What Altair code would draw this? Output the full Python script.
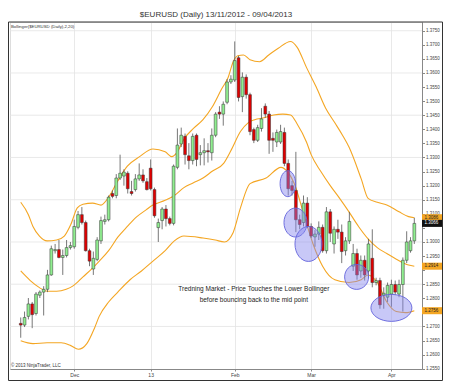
import altair as alt
import pandas as pd

# ---------------- data ----------------
open_ = [1.2711, 1.2705, 1.2736, 1.2780, 1.2746, 1.2811, 1.2822, 1.2832, 1.2883, 1.2969,
         1.2973, 1.2945, 1.2952, 1.2980, 1.2983, 1.3052, 1.3097, 1.3069, 1.2969, 1.2904,
         1.2938, 1.3004, 1.3073, 1.3079, 1.3172, 1.3165, 1.3227, 1.3234, 1.3244, 1.3179,
         1.3186, 1.3224, 1.3238, 1.3214, 1.3262, 1.3186, 1.3051, 1.3076, 1.3117, 1.3083,
         1.3066, 1.3265, 1.3348, 1.3375, 1.3306, 1.3289, 1.3379, 1.3310, 1.3317, 1.3324,
         1.3317, 1.3379, 1.3461, 1.3454, 1.3496, 1.3568, 1.3575, 1.3654, 1.3516, 1.3585,
         1.3523, 1.3399, 1.3361, 1.3403, 1.3482, 1.3454, 1.3368, 1.3355, 1.3355, 1.3389,
         1.3279, 1.3200, 1.3183, 1.3079, 1.3069, 1.3138, 1.3055, 1.3018, 1.3028, 1.3052,
         1.2969, 1.3107, 1.2993, 1.3045, 1.3035, 1.2969, 1.3004, 1.2914, 1.2959, 1.2897,
         1.2935, 1.2897, 1.2942, 1.2856, 1.2863, 1.2811, 1.2804, 1.2815, 1.2849, 1.2815,
         1.2849, 1.2935, 1.2969, 1.3004]
high = [1.2732, 1.2753, 1.2801, 1.2787, 1.2822, 1.2828, 1.2843, 1.2901, 1.2987, 1.2993,
        1.3007, 1.2973, 1.3007, 1.3000, 1.3079, 1.3110, 1.3124, 1.3076, 1.2976, 1.2966,
        1.3017, 1.3090, 1.3097, 1.3165, 1.3183, 1.3241, 1.3310, 1.3258, 1.3251, 1.3217,
        1.3241, 1.3279, 1.3258, 1.3227, 1.3293, 1.3193, 1.3083, 1.3124, 1.3131, 1.3090,
        1.3275, 1.3403, 1.3406, 1.3385, 1.3351, 1.3385, 1.3385, 1.3344, 1.3368, 1.3351,
        1.3403, 1.3461, 1.3482, 1.3499, 1.3578, 1.3592, 1.3712, 1.3661, 1.3602, 1.3595,
        1.3530, 1.3406, 1.3416, 1.3475, 1.3492, 1.3465, 1.3389, 1.3399, 1.3416, 1.3406,
        1.3293, 1.3217, 1.3320, 1.3097, 1.3165, 1.3159, 1.3066, 1.3042, 1.3073, 1.3062,
        1.3124, 1.3117, 1.3055, 1.3079, 1.3062, 1.3017, 1.3107, 1.2993, 1.2976, 1.2952,
        1.2952, 1.3011, 1.3045, 1.2873, 1.2873, 1.2839, 1.2856, 1.2866, 1.2863, 1.2866,
        1.2945, 1.3038, 1.3017, 1.3086]
low = [1.2660, 1.2698, 1.2725, 1.2694, 1.2739, 1.2801, 1.2739, 1.2822, 1.2880, 1.2959,
       1.2942, 1.2883, 1.2945, 1.2973, 1.2976, 1.3045, 1.3062, 1.2966, 1.2914, 1.2883,
       1.2932, 1.2993, 1.3062, 1.3073, 1.3155, 1.3155, 1.3220, 1.3200, 1.3172, 1.3165,
       1.3179, 1.3217, 1.3210, 1.3183, 1.3183, 1.3086, 1.3000, 1.3045, 1.3055, 1.3059,
       1.3059, 1.3258, 1.3337, 1.3275, 1.3258, 1.3275, 1.3269, 1.3272, 1.3272, 1.3282,
       1.3289, 1.3372, 1.3437, 1.3413, 1.3489, 1.3561, 1.3568, 1.3499, 1.3461, 1.3509,
       1.3379, 1.3351, 1.3355, 1.3392, 1.3441, 1.3313, 1.3320, 1.3337, 1.3348, 1.3269,
       1.3165, 1.3165, 1.3035, 1.3045, 1.3055, 1.3049, 1.3014, 1.2983, 1.3007, 1.2962,
       1.2959, 1.3000, 1.2959, 1.3011, 1.2925, 1.2952, 1.2993, 1.2897, 1.2866, 1.2873,
       1.2863, 1.2873, 1.2839, 1.2846, 1.2763, 1.2763, 1.2787, 1.2770, 1.2811, 1.2804,
       1.2753, 1.2925, 1.2962, 1.2993]
close = [1.2705, 1.2732, 1.2780, 1.2742, 1.2815, 1.2822, 1.2832, 1.2883, 1.2976, 1.2973,
         1.2945, 1.2952, 1.2980, 1.2987, 1.3055, 1.3097, 1.3069, 1.2969, 1.2932, 1.2942,
         1.3007, 1.3076, 1.3079, 1.3159, 1.3162, 1.3227, 1.3244, 1.3248, 1.3189, 1.3172,
         1.3224, 1.3238, 1.3217, 1.3186, 1.3189, 1.3093, 1.3069, 1.3117, 1.3083, 1.3066,
         1.3269, 1.3344, 1.3379, 1.3310, 1.3289, 1.3375, 1.3293, 1.3317, 1.3324, 1.3320,
         1.3379, 1.3454, 1.3454, 1.3489, 1.3568, 1.3578, 1.3644, 1.3513, 1.3585, 1.3523,
         1.3392, 1.3361, 1.3406, 1.3437, 1.3454, 1.3361, 1.3361, 1.3389, 1.3392, 1.3279,
         1.3189, 1.3183, 1.3079, 1.3062, 1.3138, 1.3055, 1.3021, 1.3028, 1.3052, 1.2969,
         1.3107, 1.3031, 1.3045, 1.3035, 1.2966, 1.3004, 1.3073, 1.2959, 1.2883, 1.2935,
         1.2883, 1.2993, 1.2856, 1.2863, 1.2777, 1.2818, 1.2846, 1.2849, 1.2822, 1.2849,
         1.2935, 1.3000, 1.3004, 1.3066]

# Bollinger(20,2) bands (bar position, price)
upper_idx = [0, 2, 3.2, 4.9, 6.9, 9.4, 11.4, 13.1, 14.8, 16.3, 18.8, 21, 23, 25.4, 27.9,
             31.1, 34.6, 37.8, 39.5, 41, 42.7, 45.2, 47.7, 50.1, 52.6, 54.3, 55.6, 56.8,
             58.3, 60, 62.5, 64.9, 67.4, 70.6, 72.3, 74.8, 77.3, 79.8, 82.2, 84.2, 85.9,
             89.1, 90.9, 93.3, 95.8, 99, 101.5, 103]
upper_val = [1.3141, 1.3097, 1.3055, 1.3021, 1.3004, 1.3007, 1.3021, 1.3062, 1.3121,
             1.3134, 1.3138, 1.3131, 1.3159, 1.3217, 1.3269, 1.3303, 1.3330, 1.3320,
             1.3303, 1.3320, 1.3365, 1.3403, 1.3434, 1.3479, 1.3544, 1.3585, 1.3640,
             1.3661, 1.3664, 1.3647, 1.3640, 1.3664, 1.3688, 1.3712, 1.3692, 1.3619,
             1.3551, 1.3475, 1.3423, 1.3379, 1.3337, 1.3224, 1.3155, 1.3141, 1.3131,
             1.3107, 1.3090, 1.3086]
middle_idx = [0, 2.5, 4.9, 6.9, 9.4, 11.9, 13.8, 16.3, 18.8, 20.5, 23, 25.4, 27.9, 30.4,
              32.8, 34.6, 37.8, 40.2, 42.7, 45.2, 47.7, 50.1, 53.1, 55.1, 57.5, 59.5,
              61.2, 63.7, 66.2, 68.6, 70.6, 72.3, 74.8, 76, 78.5, 81, 83.5, 85.9, 88.4,
              90.9, 93.3, 95.8, 98.3, 101.5, 103]
middle_val = [1.2897, 1.2863, 1.2838, 1.2825, 1.2825, 1.2832, 1.2845, 1.2876, 1.2907,
              1.2931, 1.2969, 1.3017, 1.3055, 1.3090, 1.3114, 1.3131, 1.3148, 1.3165,
              1.3193, 1.3210, 1.3227, 1.3251, 1.3279, 1.3327, 1.3392, 1.3423, 1.3434,
              1.3441, 1.3451, 1.3454, 1.3451, 1.3420, 1.3354, 1.3310, 1.3251, 1.3200,
              1.3154, 1.3107, 1.3055, 1.3011, 1.2980, 1.2959, 1.2939, 1.2918, 1.2914]
lower_idx = [0, 3.2, 6.9, 10.6, 13.1, 15.1, 17.3, 19.3, 20.5, 23, 25.4, 28.6, 31.6, 34.6,
             37.8, 40.2, 42.7, 47.7, 50.9, 53.3, 55.6, 57.5, 60, 64.2, 68.1, 69.9, 71.6,
             74.1, 76.5, 79, 82.2, 85.9, 89.1, 90.9, 93.3, 95.8, 98.3, 100.7, 103]
lower_val = [1.2649, 1.2639, 1.2642, 1.2642, 1.2632, 1.2619, 1.2639, 1.2694, 1.2735,
             1.2787, 1.2822, 1.2866, 1.2897, 1.2932, 1.2969, 1.3004, 1.3021, 1.3014,
             1.3007, 1.3000, 1.3034, 1.3121, 1.3207, 1.3227, 1.3265, 1.3248, 1.3207,
             1.3097, 1.2993, 1.2914, 1.2866, 1.2856, 1.2866, 1.2883, 1.2856, 1.2787,
             1.2753, 1.2749, 1.2756]

# highlighted touches of the lower band (bar position, price)
touch_idx = [69.9, 71.9, 75.3, 87.9, 97.0]
touch_price = [1.3207, 1.3069, 1.2993, 1.2876, 1.2766]

# axis ticks and labels
month_idx = [14, 34, 56, 76, 97]
month_lbl = ["Dec", "13", "Feb", "Mar", "Apr"]
y_ticks = [1.2550, 1.2600, 1.2650, 1.2700, 1.2750, 1.2800, 1.2850, 1.2900, 1.2950,
           1.3000, 1.3050, 1.3100, 1.3150, 1.3200, 1.3250, 1.3300, 1.3350, 1.3400,
           1.3450, 1.3500, 1.3550, 1.3600, 1.3650, 1.3700, 1.3750]
# tick labels hidden behind the value boxes in the reference
covered_ticks = [1.3050, 1.2900, 1.2750]
grid_levels = [1.2700, 1.2850, 1.3000, 1.3150, 1.3300, 1.3450, 1.3600, 1.3750]

ann_lines = ["Tredning Market - Price Touches the Lower Bollinger",
             "before bouncing back to the mid point"]
ann_idx = [61.0, 61.0]
ann_price = [1.2832, 1.2794]

title_text = "$EURUSD (Daily)  13/11/2012 - 09/04/2013"
indicator_text = "Bollinger($EURUSD (Daily),2,20)"
copyright_text = "\u00a9 2013 NinjaTrader, LLC"

# ---------------- styling ----------------
W, H = 412, 347
FONT = "Liberation Sans"
BAND = "#F4A623"
UP = "#90EE90"
DOWN = "#E00000"

xscale = alt.Scale(domain=[-1.5, 103.7], nice=False, zero=False)
yscale = alt.Scale(domain=[1.2549, 1.3781], nice=False, zero=False)

x_label_expr = " : ".join(
    [f"datum.value == {i} ? '{l}'" for i, l in zip(month_idx, month_lbl)]) + " : ''"
y_label_expr = "(" + " || ".join(
    [f"abs(datum.value - {v}) < 0.0001" for v in covered_ticks]
) + ") ? '' : format(datum.value, '.4f')"

xaxis = alt.Axis(values=month_idx, labelExpr=x_label_expr, title=None, grid=True,
                 gridColor="#e3e3e3", gridWidth=0.8, tickSize=2, tickColor="#888",
                 domainColor="#888", labelFontSize=5, labelColor="#444", labelFont=FONT,
                 labelPadding=1)
yaxis = alt.Axis(orient="right", values=y_ticks, labelExpr=y_label_expr, title=None,
                 grid=False, tickSize=2.5, tickColor="#888", domainColor="#888",
                 labelFontSize=4.5, labelColor="#444", labelFont=FONT, labelPadding=1,
                 zindex=0)

X = alt.X("idx:Q", scale=xscale, axis=xaxis)
Y = alt.Y("price:Q", scale=yscale, axis=yaxis)

n = len(close)
candles = pd.DataFrame({"idx": list(range(n)), "open": open_, "high": high,
                        "low": low, "close": close})

wick_df = candles.rename(columns={"low": "price", "high": "price2"})
body_df = candles.rename(columns={"open": "price", "close": "price2"}).assign(
    up=[c >= o for o, c in zip(open_, close)])

bands = pd.concat([
    pd.DataFrame({"idx": upper_idx, "price": upper_val, "band": "upper"}),
    pd.DataFrame({"idx": middle_idx, "price": middle_val, "band": "middle"}),
    pd.DataFrame({"idx": lower_idx, "price": lower_val, "band": "lower"}),
])

grid = alt.Chart(pd.DataFrame({"price": grid_levels})).mark_rule(
    color="#e3e3e3", strokeWidth=0.8).encode(x=alt.value(0), x2=alt.value(W), y=Y)

band_lines = alt.Chart(bands).mark_line(
    color=BAND, strokeWidth=1.1, interpolate="monotone").encode(
    x=X, y=Y, detail="band:N", order="idx:Q")

wicks = alt.Chart(wick_df).mark_rule(color="#555", strokeWidth=0.8).encode(
    x=X, y=Y, y2="price2:Q")

bodies = alt.Chart(body_df).mark_bar(width=2.8, stroke="#333", strokeWidth=0.5).encode(
    x=X, y=Y, y2="price2:Q",
    color=alt.condition("datum.up", alt.value(UP), alt.value(DOWN)))

# ellipse outlines (width, height in px) for each highlighted touch
ell_dims = [(15.5, 26), (23, 29), (27, 35), (24, 25), (41, 27)]
ellipses = []
for ix, pr, (w, h) in zip(touch_idx, touch_price, ell_dims):
    side = max(w, h)
    a, b = w / side, h / side
    path = f"M {-a} 0 A {a} {b} 0 1 1 {a} 0 A {a} {b} 0 1 1 {-a} 0 Z"
    ellipses.append(
        alt.Chart(pd.DataFrame({"idx": [ix], "price": [pr]})).mark_point(
            shape=path, size=side * side, filled=True, fill="#8585ee",
            fillOpacity=0.45, stroke="#6464dc", strokeWidth=1, strokeOpacity=0.9,
            opacity=1).encode(x=X, y=Y))

annotation = alt.Chart(pd.DataFrame({"idx": ann_idx, "price": ann_price,
                                     "txt": ann_lines})).mark_text(
    font=FONT, fontSize=6.5, color="#222", align="center", baseline="middle").encode(
    x=X, y=Y, text="txt:N")

# value boxes on the price axis: last upper, middle, lower band and last close
box_df = pd.DataFrame({
    "price": [upper_val[-1], middle_val[-1], lower_val[-1], close[-1]],
    "kind": ["band", "band", "band", "close"],
})
rect_path = "M -1 -0.32 L 1 -0.32 L 1 0.32 L -1 0.32 Z"
boxes = alt.Chart(box_df).mark_point(shape=rect_path, size=22 * 22, filled=True,
                                     opacity=1, strokeWidth=0).encode(
    x=alt.value(W + 11), y=Y,
    fill=alt.condition("datum.kind == 'close'", alt.value("#111"), alt.value(BAND)))
box_text = alt.Chart(box_df).mark_text(font=FONT, fontSize=4.5, align="left",
                                       baseline="middle").encode(
    x=alt.value(W + 2.5), y=Y, text=alt.Text("price:Q", format=".4f"),
    color=alt.condition("datum.kind == 'close'", alt.value("#fff"), alt.value("#222")))

one = pd.DataFrame({"k": [0]})
indicator = alt.Chart(one).mark_text(font=FONT, fontSize=4.3, color="#333",
                                     align="left", baseline="middle").encode(
    x=alt.value(1), y=alt.value(5), text=alt.value(indicator_text))
copyright_ = alt.Chart(one).mark_text(font=FONT, fontSize=4.5, color="#333",
                                      align="left", baseline="bottom").encode(
    x=alt.value(1), y=alt.value(H - 1), text=alt.value(copyright_text))
frame = alt.Chart(one).mark_rect(filled=False, stroke="#333", strokeWidth=1).encode(
    x=alt.value(-1.5), x2=alt.value(W + 20.5), y=alt.value(0), y2=alt.value(H + 11.5))

chart = alt.layer(
    grid, band_lines, wicks, bodies, *ellipses, annotation, boxes, box_text,
    indicator, copyright_, frame
).properties(
    width=W, height=H,
    title=alt.TitleParams(title_text, fontSize=8, font=FONT, fontWeight="normal",
                          color="#333", offset=3, anchor="middle"),
    autosize=alt.AutoSizeParams(type="none"),
    padding={"left": 2, "top": 14, "right": 21, "bottom": 12},
).configure_view(stroke=None).configure(background="white")

chart.save("out.html", embed_options={"renderer": "svg", "actions": False})
